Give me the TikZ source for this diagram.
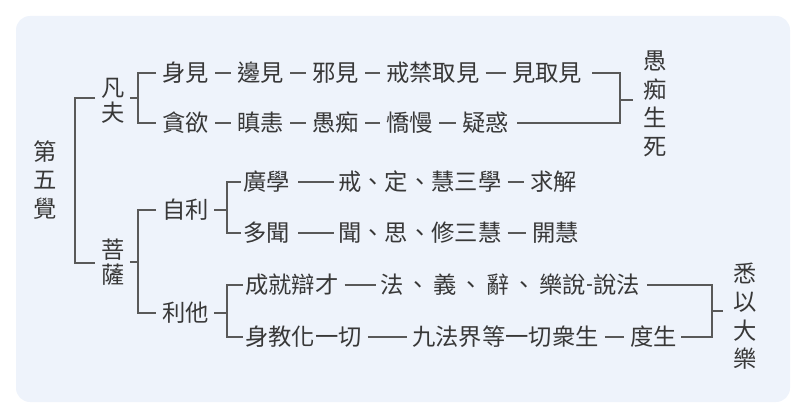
\documentclass[tikz,border=0pt]{standalone}
\usepackage{fontspec}
\setmainfont{Noto Sans CJK TC}
\definecolor{bgc}{RGB}{238,243,251}
\newcommand{\dn}{\hspace{3.2pt}、\hspace{3.2pt}}
\begin{document}
\begin{tikzpicture}[x=1pt,y=-1pt,
  t/.style={inner sep=0pt,text=black!78,font=\fontsize{23.3}{28}\selectfont,anchor=west},
  v/.style={inner sep=0pt,text=black!78,font=\fontsize{23.3}{28.5}\selectfont,align=center},
  v2/.style={inner sep=0pt,text=black!78,font=\fontsize{23.3}{24.5}\selectfont,align=center},
  ln/.style={draw=black!65,line width=1.3pt},
  s/.style={shorten <=6pt,shorten >=6pt}]
\useasboundingbox (0,0) rectangle (800,417);
\fill[fill=bgc,rounded corners=14pt] (16,16) rectangle (790,402);
% left
\node[v] (root) at (45,180) {第\\五\\覺};
\node[v2] (ff) at (113,101) {凡\\夫};
\node[v2] (ps) at (113,262) {菩\\薩};
\draw[ln] ([xshift=-6]ff.west|-0,98) -- (75,98) -- (75,263) -- ([xshift=-6]ps.west|-0,263);
% 凡夫 branch
\node[t] (r11) at (162,73) {身見};
\node[t] (r12) at (237,73) {邊見};
\node[t] (r13) at (312,73) {邪見};
\node[t] (r14) at (386,73) {戒禁取見};
\node[t] (r15) at (512,73) {見取見};
\node[t] (r21) at (162,123) {貪欲};
\node[t] (r22) at (237,123) {瞋恚};
\node[t] (r23) at (312,123) {愚痴};
\node[t] (r24) at (386,123) {憍慢};
\node[t] (r25) at (462,123) {疑惑};
\foreach \a/\b in {r11/r12,r12/r13,r13/r14,r14/r15,r21/r22,r22/r23,r23/r24,r24/r25}
  \draw[ln,s] (\a.east) -- (\b.west);
\draw[ln] ([xshift=5]ff.east|-0,98) -- (138,98);
\draw[ln] ([xshift=-6]r11.west) -- (138,73) -- (138,123) -- ([xshift=-6]r21.west);
\coordinate (j1) at (620,100);
\node[v] (ych) at (655,104) {愚\\痴\\生\\死};
\draw[ln] ([xshift=10]r15.east) -- (j1|-r15) -- (j1|-r25) -- ([xshift=8]r25.east);
\draw[ln] (j1) -- ([xshift=-10]ych.west|-j1);
% 菩薩 branch
\draw[ln] ([xshift=5]ps.east|-0,262) -- (138,262);
\node[t] (zl) at (162,210) {自利};
\node[t] (lt) at (162,313) {利他};
\draw[ln] ([xshift=-6]zl.west) -- (138,210) -- (138,313) -- ([xshift=-6]lt.west);
\node[t] (g1) at (243,182) {廣學};
\node[t] (g2) at (338,182) {戒、定、慧三學};
\node[t] (g3) at (530,182) {求解};
\node[t] (d1) at (243,233) {多聞};
\node[t] (d2) at (338,233) {聞、思、修三慧};
\node[t] (d3) at (532,233) {開慧};
\draw[ln] ([xshift=5]zl.east) -- (227,210);
\draw[ln] ([xshift=-2]g1.west) -- (227,182) -- (227,233) -- ([xshift=-2]d1.west);
\foreach \a/\b in {g2/g3,d2/d3} \draw[ln,s] (\a.east) -- (\b.west);
\draw[ln,shorten <=8pt,shorten >=4pt] (g1.east) -- (g2.west);
\draw[ln,shorten <=8pt,shorten >=4pt] (d1.east) -- (d2.west);
% 利他
\node[t] (c1) at (245,285) {成就辯才};
\node[t] (c2) at (380,285) {法\dn 義\dn 辭\dn 樂說};
\node[t] (c3) at (593,285) {說法};
\node[t] (b1) at (245,337) {身教化一切};
\node[t] (b2) at (412,337) {九法界等一切衆生};
\node[t] (b3) at (630,337) {度生};
\draw[ln] ([xshift=5]lt.east) -- (227,313);
\draw[ln] ([xshift=-2]c1.west) -- (227,285) -- (227,337) -- ([xshift=-2]b1.west);
\foreach \a/\b in {c2/c3,b2/b3} \draw[ln,s] (\a.east) -- (\b.west);
\draw[ln,shorten <=6pt,shorten >=4pt] (c1.east) -- (c2.west);
\draw[ln,shorten <=6pt,shorten >=5pt] (b1.east) -- (b2.west);
\coordinate (j2) at (712,311);
\node[v] (sy) at (745,316) {悉\\以\\大\\樂};
\draw[ln] ([xshift=7]c3.east) -- (j2|-c3) -- (j2|-b3) -- ([xshift=4]b3.east);
\draw[ln] (j2) -- ([xshift=-10]sy.west|-j2);
\end{tikzpicture}
\end{document}
